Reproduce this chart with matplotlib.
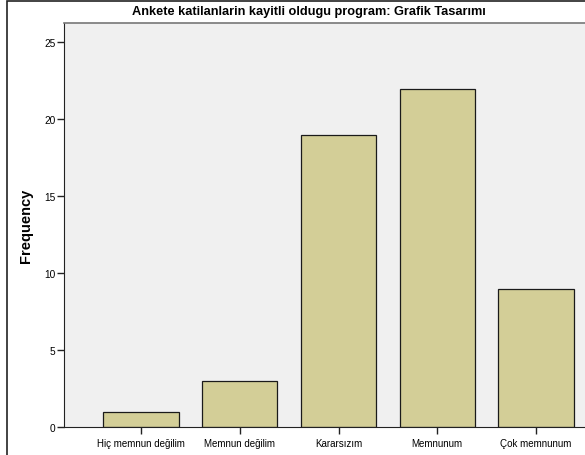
import matplotlib
matplotlib.use("Agg")
import matplotlib.pyplot as plt
from matplotlib.patches import Rectangle

categories = ["Hiç memnun değilim", "Memnun değilim", "Kararsızım", "Memnunum", "Çok memnunum"]
frequencies = [1, 3, 19, 22, 9]
yticks = [0, 5, 10, 15, 20, 25]
title = "Ankete katilanlarin kayitli oldugu program: Grafik Tasarımı"
ylabel = "Frequency"

plt.rcParams['font.family'] = ['Liberation Sans', 'DejaVu Sans']

W, H = 585, 456
fig = plt.figure(figsize=(W / 100, H / 100), dpi=100)
fig.patch.set_facecolor("white")

# outer frame
fig.patches.append(Rectangle((7 / W, -0.1), 1.2, (H - 2) / H + 0.1, transform=fig.transFigure,
                             fill=False, edgecolor="#222222", linewidth=1.2))

left, right, top, bottom = 64, 585, 24, 428
ax = fig.add_axes([left / W, (H - bottom) / H, (right - left) / W, (bottom - top) / H])
ax.set_facecolor("#F0F0F0")

x = list(range(len(categories)))
ax.bar(x, frequencies, width=0.76, color="#D3CE97", edgecolor="#1a1a1a", linewidth=0.9, zorder=2)

ax.set_xlim(-0.78, 4.496)
ax.set_ylim(0, 26.26)
ax.set_yticks(yticks)
ax.set_xticks(x)
ax.set_xticklabels(categories, fontsize=7)
ax.tick_params(axis="y", labelsize=7.3, length=5, width=1, color="#222222", pad=1)
ax.tick_params(axis="x", length=5, width=1, color="#222222", pad=3)

ax.spines["right"].set_visible(False)
ax.spines["top"].set_color("#777777")
ax.spines["top"].set_linewidth(1.2)
ax.spines["left"].set_color("#222222")
ax.spines["bottom"].set_color("#222222")

ax.set_ylabel(ylabel, fontsize=10.5, fontweight="bold", labelpad=8)
fig.text(308.5 / W, 1 - 12 / H, title, ha="center", va="center", fontsize=9.2, fontweight="bold")

fig.savefig("out.png", dpi=100)
